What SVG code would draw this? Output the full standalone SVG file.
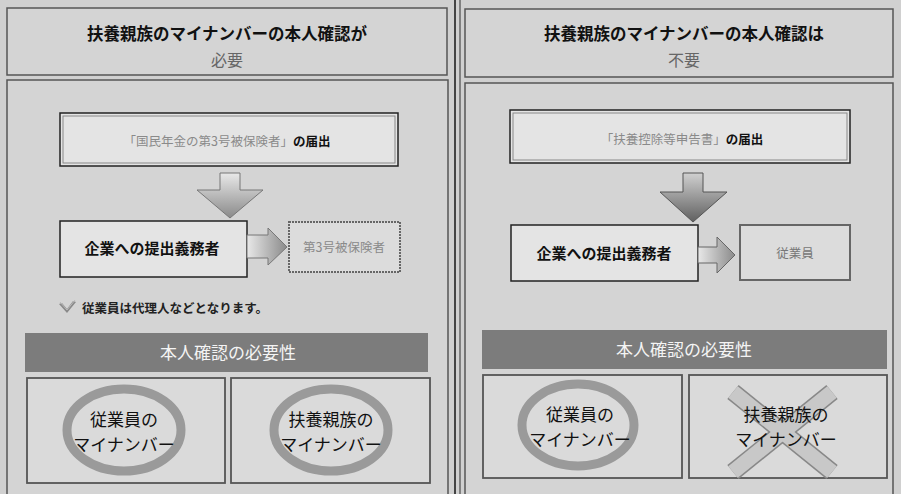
<svg xmlns="http://www.w3.org/2000/svg" width="901" height="494" viewBox="0 0 901 494">
<defs>
<linearGradient id="gv" x1="0" y1="0" x2="0" y2="1"><stop offset="0" stop-color="#e8e8e8"/><stop offset="1" stop-color="#8a8a8a"/></linearGradient>
<linearGradient id="gv2" x1="0" y1="0" x2="0" y2="1"><stop offset="0" stop-color="#d0d0d0"/><stop offset="1" stop-color="#606060"/></linearGradient>
<linearGradient id="gh" x1="0" y1="0" x2="1" y2="0"><stop offset="0" stop-color="#e8e8e8"/><stop offset="1" stop-color="#8a8a8a"/></linearGradient>
</defs>
<style>
.jp{font-family:"Noto Sans CJK JP","Noto Sans CJK SC",sans-serif}
.panel{fill:#d4d4d4;stroke:#555;stroke-width:1.5}
.box{fill:#e4e4e4;stroke:#222;stroke-width:1.5}
.box2{fill:#dcdcdc;stroke:#666;stroke-width:2}
.hd{font-size:16.5px;font-weight:bold;fill:#111;text-anchor:middle}
.sub{font-size:16px;fill:#666;text-anchor:middle}
.t13{font-size:12.5px;text-anchor:middle}
.t15{font-size:15px;font-weight:bold;fill:#111;text-anchor:middle}
.lt{fill:#8a8a8a}
.bar{fill:#7c7c7c}
.bart{font-size:17px;fill:#f4f4f4;text-anchor:middle}
.cell{fill:#dadada;stroke:#555;stroke-width:1.8}
.ring{fill:none;stroke:#9a9a9a;stroke-width:9}
.ct{font-size:17px;fill:#111;text-anchor:middle}
.ax{fill:url(#gv);stroke:#777;stroke-width:1}
</style>
<rect x="0" y="0" width="901" height="494" fill="#d0d0d0"/>
<line x1="455" y1="0" x2="455" y2="494" stroke="#444" stroke-width="2"/>
<line x1="460" y1="0" x2="460" y2="494" stroke="#666" stroke-width="1.5"/>

<g id="left-header">
<rect class="panel" x="7" y="8" width="440" height="67"/>
<text class="jp hd" x="227" y="40">扶養親族のマイナンバーの本人確認が</text>
<text class="jp sub" x="227" y="66">必要</text>
</g>
<g id="right-header">
<rect class="panel" x="465" y="9" width="428" height="68"/>
<text class="jp hd" x="684" y="40">扶養親族のマイナンバーの本人確認は</text>
<text class="jp sub" x="684" y="66">不要</text>
</g>
<g id="left-panel"><rect class="panel" x="7" y="80" width="441" height="420"/></g>
<g id="right-panel"><rect class="panel" x="465" y="83" width="428" height="420"/></g>

<g id="l-filing">
<rect class="box" x="60" y="113" width="338" height="53" stroke-width="3"/>
<rect x="63" y="116" width="332" height="47" fill="none" stroke="#888" stroke-width="1"/>
<text class="jp t13" x="227" y="146"><tspan class="lt">「国民年金の第3号被保険者」</tspan><tspan font-weight="bold" fill="#111">の届出</tspan></text>
</g>
<g id="r-filing">
<rect class="box" x="510" y="110" width="340" height="53" stroke-width="3"/>
<rect x="513" y="113" width="334" height="47" fill="none" stroke="#888" stroke-width="1"/>
<text class="jp t13" x="682" y="144"><tspan class="lt">「扶養控除等申告書」</tspan><tspan font-weight="bold" fill="#111">の届出</tspan></text>
</g>

<g id="l-duty">
<rect class="box" x="60" y="221" width="187" height="56"/>
<text class="jp t15" x="152" y="254">企業への提出義務者</text>
</g>
<g id="l-third">
<rect class="box2" x="289" y="222" width="111" height="50" stroke-dasharray="2 1"/>
<text class="jp t13" x="344" y="252" fill="#8a8a8a">第3号被保険者</text>
</g>
<g id="r-duty">
<rect class="box" x="511" y="225" width="187" height="56"/>
<text class="jp t15" x="604" y="259">企業への提出義務者</text>
</g>
<g id="r-emp">
<rect class="box2" x="740" y="225" width="110" height="55" stroke="#444"/>
<text class="jp t13" x="795" y="258" fill="#777">従業員</text>
</g>

<g id="connectors">
<path class="ax" d="M220,173 H240 V190 H263 L230,218 L197,190 H220 Z"/>
<path d="M683,173 H703 V192 H727 L693,222 L660,192 H683 Z" fill="url(#gv2)" stroke="#555" stroke-width="1"/>
<path d="M247,235 H268 V228 L287,247 L268,265 V258 H247 Z" fill="url(#gh)" stroke="#777" stroke-width="1"/>
<path d="M698,247 H717 V237 L735,255 L717,273 V263 H698 Z" fill="url(#gh)" stroke="#666" stroke-width="1"/>
</g>

<g id="l-note">
<path d="M59,304 L67,313 L76,302 L73,301 L67,309 L62,303 Z" fill="#8a8a8a"/>
<path d="M60,302 L67,310 L75,300" fill="none" stroke="#bbb" stroke-width="1"/>
<text class="jp" x="82" y="313" font-size="12.5" font-weight="bold" fill="#222">従業員は代理人などとなります。</text>
</g>

<g id="l-bar">
<rect class="bar" x="25" y="333" width="403" height="39"/>
<text class="jp bart" x="228" y="359">本人確認の必要性</text>
</g>
<g id="r-bar">
<rect class="bar" x="482" y="330" width="405" height="39" fill="#6e6e6e"/>
<text class="jp bart" x="684" y="356">本人確認の必要性</text>
</g>

<g id="l-emp-cell">
<rect class="cell" x="27" y="378" width="198" height="105"/>
<ellipse class="ring" cx="124" cy="430" rx="57" ry="41"/>
<text class="jp ct" x="124" y="426">従業員の</text>
<text class="jp ct" x="124" y="451">マイナンバー</text>
</g>
<g id="l-dep-cell">
<rect class="cell" x="231" y="378" width="199" height="105"/>
<ellipse class="ring" cx="331" cy="430" rx="57" ry="41"/>
<text class="jp ct" x="331" y="426">扶養親族の</text>
<text class="jp ct" x="331" y="451">マイナンバー</text>
</g>
<g id="r-emp-cell">
<rect class="cell" x="483" y="375" width="199" height="103"/>
<ellipse class="ring" cx="578" cy="425" rx="56" ry="41"/>
<text class="jp ct" x="580" y="421">従業員の</text>
<text class="jp ct" x="580" y="446">マイナンバー</text>
</g>
<g id="r-dep-cell">
<rect class="cell" x="689" y="375" width="198" height="103"/>
<g stroke="#888" stroke-width="18" stroke-linecap="butt">
<line x1="733" y1="392" x2="832" y2="472"/>
<line x1="832" y1="392" x2="733" y2="472"/>
</g>
<g stroke="#c8c8c8" stroke-width="15">
<line x1="733" y1="392" x2="832" y2="472"/>
<line x1="832" y1="392" x2="733" y2="472"/>
</g>
<text class="jp ct" x="786" y="421">扶養親族の</text>
<text class="jp ct" x="786" y="446">マイナンバー</text>
</g>
</svg>
